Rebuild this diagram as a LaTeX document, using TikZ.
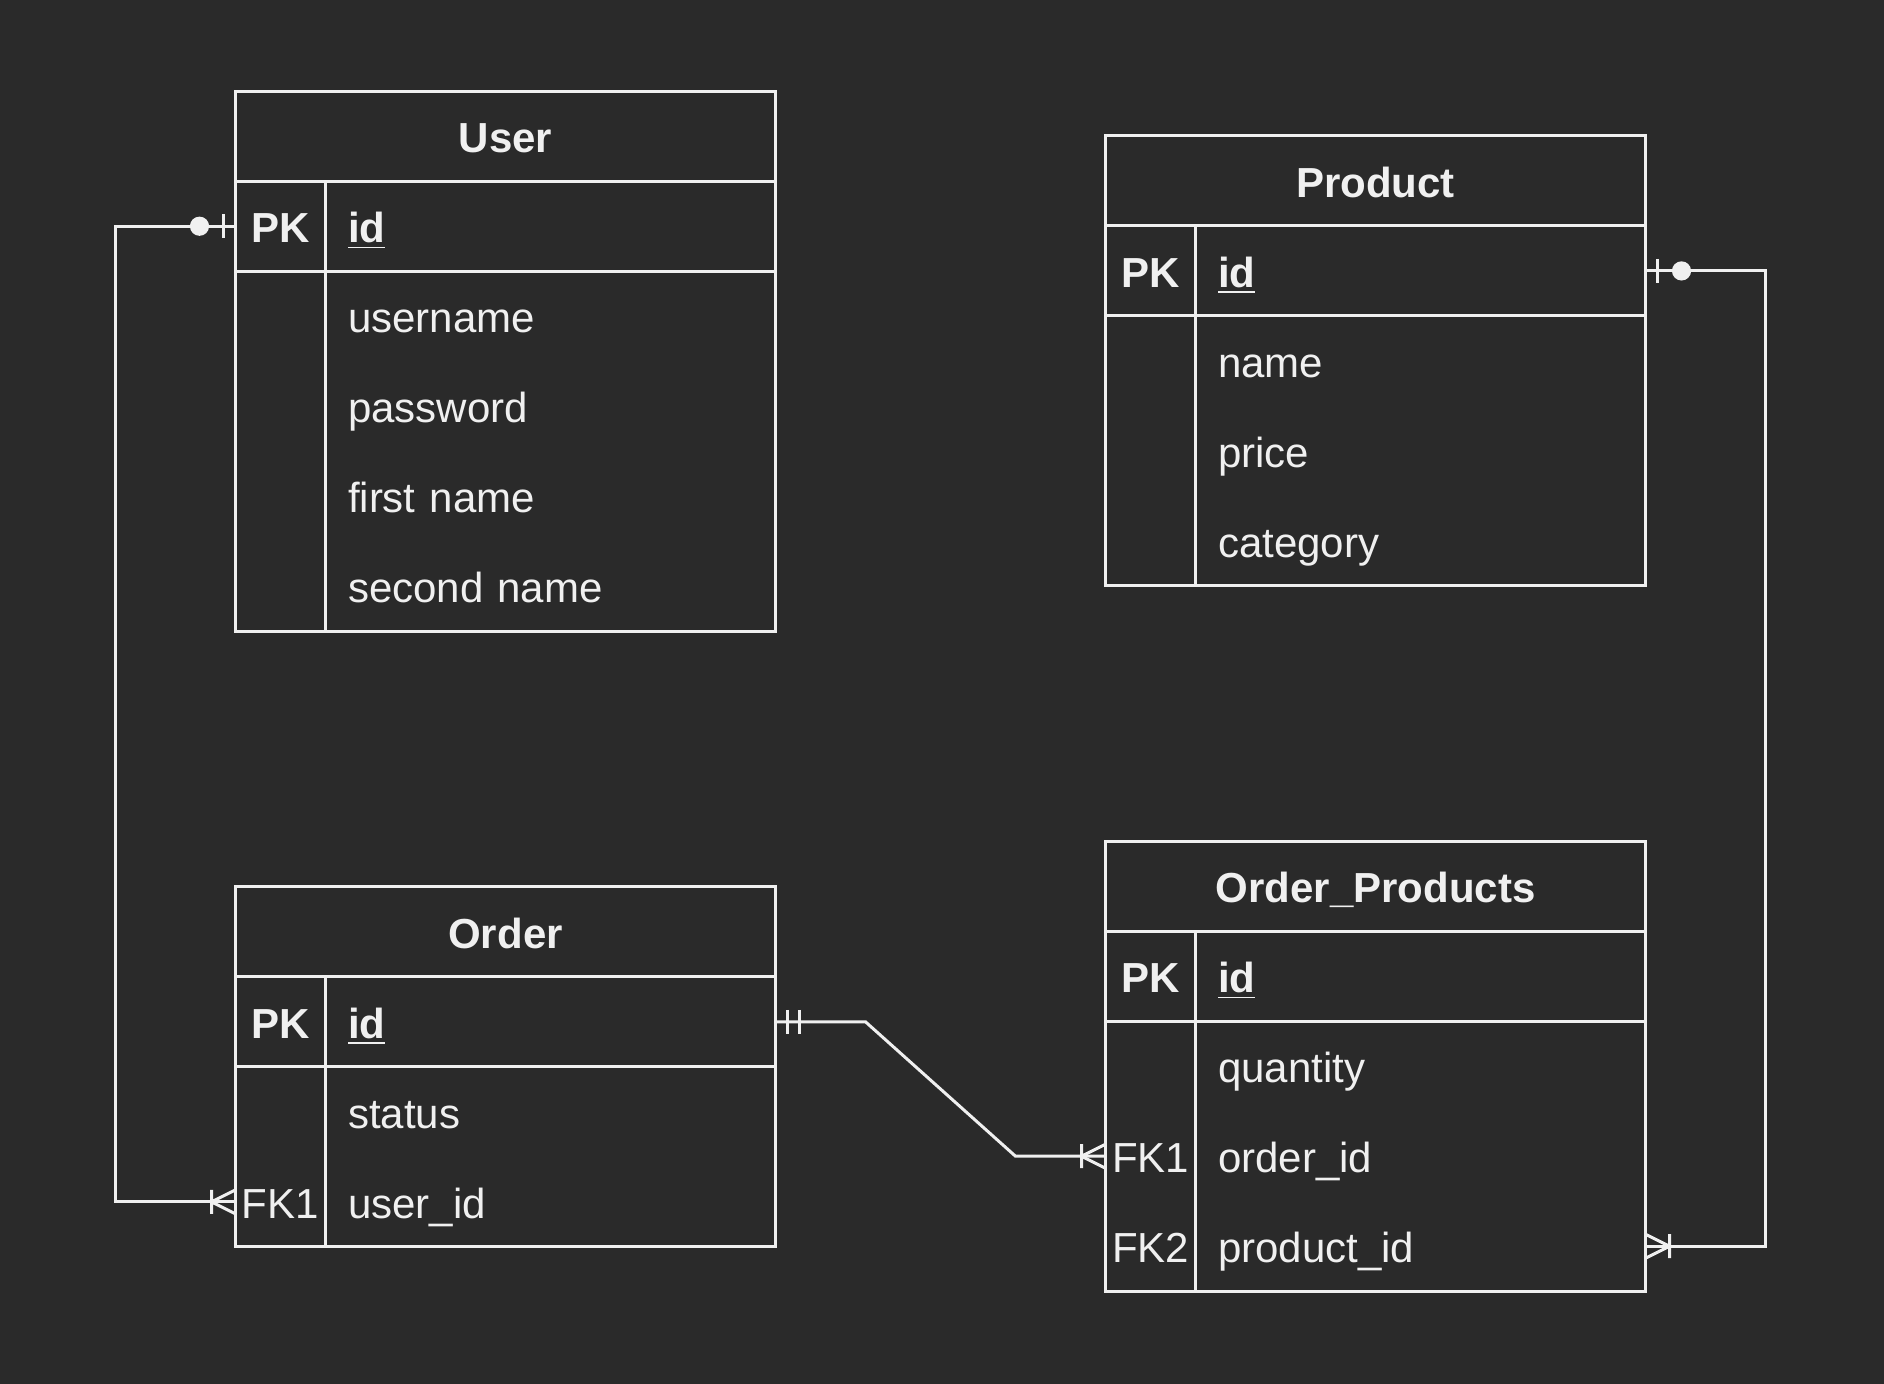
\documentclass[tikz,border=0pt]{standalone}
\usepackage{fontspec}
\setmainfont{Liberation Sans}
\usetikzlibrary{positioning}
\definecolor{bg}{HTML}{2A2A2A}
\definecolor{fg}{HTML}{F0F0F0}

\begin{document}
\begin{tikzpicture}[x=1pt, y=-1pt, line width=1pt, color=fg, node distance=0pt,
  font=\fontsize{14}{17}\selectfont]
			\tikzstyle{cell}=[inner sep=0pt, outer sep=0pt, minimum height=30pt,
			text height=12pt, text depth=1pt]
			\tikzstyle{head}=[cell, anchor=north west, minimum width=180pt,
			font=\fontsize{14}{17}\selectfont\bfseries]
			\tikzstyle{key}=[cell, minimum width=30pt]
			\tikzstyle{pk}=[key, font=\fontsize{14}{17}\selectfont\bfseries]
			\tikzstyle{field}=[cell, text width=135pt, inner xsep=7.5pt, align=left]
			\tikzset{
				zeroone/.pic={\draw (-4,-4) -- (-4,4); \fill (-12,0) circle (3.2pt);},
				mandone/.pic={\draw (-4,-4) -- (-4,4) (-8,-4) -- (-8,4);},
				onemany/.pic={\draw (-8,-4) -- (-8,4) (0,-4) -- (-8,0) -- (0,4);}
			}

			\useasboundingbox (0,0) rectangle (628,461);
			\fill[bg] (-2,-2) rectangle (630,463);

			% User
			\node[head] (user) at (78.5,30.4) {User};
			\node[pk, anchor=north west] (user-pk) at (user.south west) {PK};
			\node[field, right=of user-pk] (user-id) {\textbf{\underline{id}}};
			\node[key, below=of user-pk] (user-k1) {}; \node[field, right=of
			user-k1] (user-username) {username}; \node[key, below=of user-k1]
			(user-k2) {}; \node[field, right=of user-k2] (user-password)
			{password}; \node[key, below=of user-k2] (user-k3) {}; \node[field,
			right=of user-k3] (user-first) {first name}; \node[key, below=of
			user-k3] (user-k4) {}; \node[field, right=of user-k4] (user-second)
			{second name};
			\draw (user.north west) rectangle (user-second.south east);
			\draw (user.south west) -- (user.south east);
			\draw (user-pk.south west) -- (user-id.south east);
			\draw (user-pk.north east) -- (user-k4.south east);

			% Product
			\node[head] (product) at (368.5,45.3) {Product};
			\node[pk, anchor=north west] (product-pk) at (product.south west) {PK};
			\node[field, right=of product-pk] (product-id) {\textbf{\underline{id}}};
			\node[key, below=of product-pk] (product-k1) {}; \node[field,
			right=of product-k1] (product-name) {name}; \node[key, below=of
			product-k1] (product-k2) {}; \node[field, right=of product-k2]
			(product-price) {price}; \node[key, below=of product-k2]
			(product-k3) {}; \node[field, right=of product-k3]
			(product-category) {category};
			\draw (product.north west) rectangle (product-category.south east);
			\draw (product.south west) -- (product.south east);
			\draw (product-pk.south west) -- (product-id.south east);
			\draw (product-pk.north east) -- (product-k3.south east);

			% Order
			\node[head] (order) at (78.5,295.6) {Order};
			\node[pk, anchor=north west] (order-pk) at (order.south west) {PK};
			\node[field, right=of order-pk] (order-id) {\textbf{\underline{id}}};
			\node[key, below=of order-pk] (order-k1) {}; \node[field, right=of
			order-k1] (order-status) {status}; \node[key, below=of order-k1]
			(order-fk1) {FK1}; \node[field, right=of order-fk1] (order-user)
			{user\_id};
			\draw (order.north west) rectangle (order-user.south east);
			\draw (order.south west) -- (order.south east);
			\draw (order-pk.south west) -- (order-id.south east);
			\draw (order-pk.north east) -- (order-fk1.south east);

			% Order_Products
			\node[head] (op) at (368.5,280.4) {Order\_Products};
			\node[pk, anchor=north west] (op-pk) at (op.south west) {PK};
			\node[field, right=of op-pk] (op-id) {\textbf{\underline{id}}};
			\node[key, below=of op-pk] (op-k1) {}; \node[field, right=of
			op-k1] (op-quantity) {quantity}; \node[key, below=of op-k1]
			(op-fk1) {FK1}; \node[field, right=of op-fk1] (op-order)
			{order\_id}; \node[key, below=of op-fk1] (op-fk2) {FK2};
			\node[field, right=of op-fk2] (op-product) {product\_id};
			\draw (op.north west) rectangle (op-product.south east);
			\draw (op.south west) -- (op.south east);
			\draw (op-pk.south west) -- (op-id.south east);
			\draw (op-pk.north east) -- (op-fk2.south east);

			% relations
			\draw (user-pk.west) -- ++(-40,0) |- (order-fk1.west);
			\pic at (user-pk.west) {zeroone}; \pic at (order-fk1.west)
			{onemany};
			\draw (product-id.east) -- ++(40,0) |- (op-product.east);
			\pic[xscale=-1] at (product-id.east) {zeroone}; \pic[xscale=-1] at
			(op-product.east) {onemany};
			\draw (order-id.east) -- ++(30,0) -- ([xshift=-30pt]op-fk1.west)
			-- (op-fk1.west);
			\pic[xscale=-1] at (order-id.east) {mandone}; \pic at
			(op-fk1.west) {onemany};
		\end{tikzpicture}
\end{document}
